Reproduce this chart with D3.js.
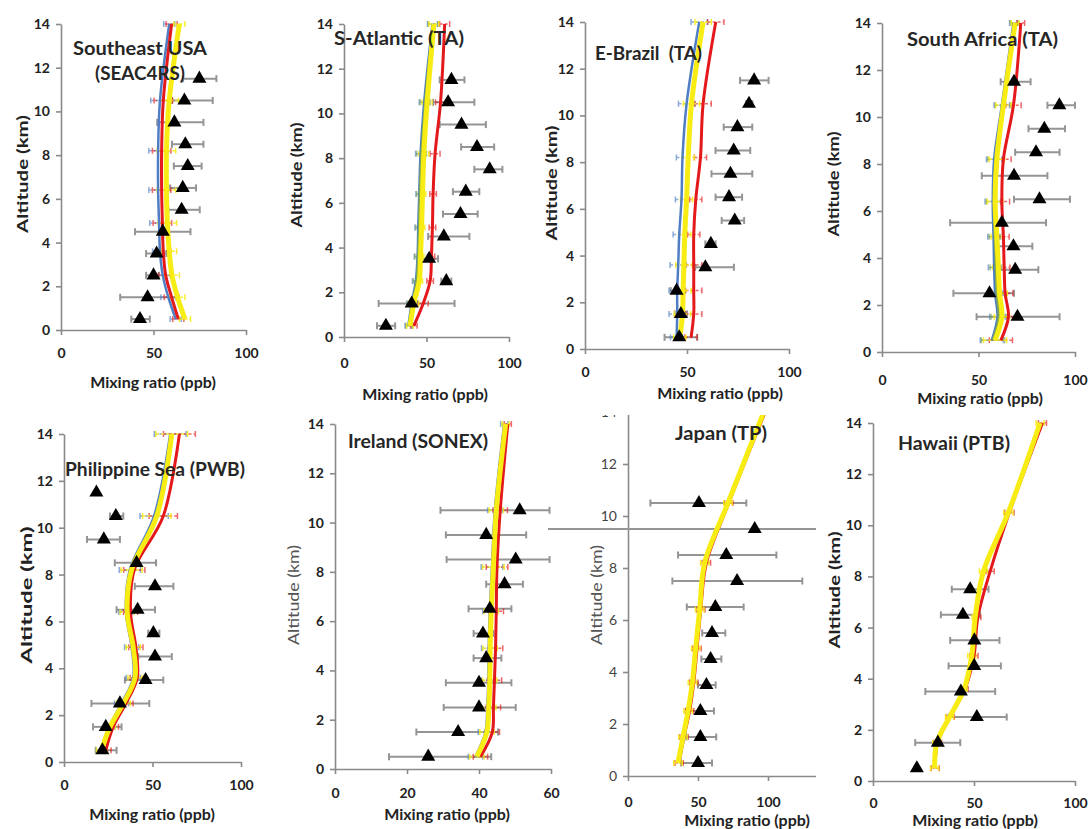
<!DOCTYPE html>
<html>
<head>
<meta charset="utf-8">
<script src="https://cdn.jsdelivr.net/npm/d3@7"></script>
<style>
  body { margin: 0; background: #fff; }
  svg { display: block; }
  text { font-family: Lato, "Noto Sans", sans-serif; }
</style>
</head>
<body>
<svg id="chart" width="1091" height="829"></svg>
<script>
// altitudes (km): observations are layer means, model at its own levels
var obsAlt = [0.5, 1.5, 2.5, 3.5, 4.5, 5.5, 6.5, 7.5, 8.5, 9.5, 10.5, 11.5];
var modelAlt = [0.5, 1.5, 2.5, 3.6, 4.9, 6.4, 8.2, 10.5, 14];

// Southeast USA (SEAC4RS)
var seusObs = [42.7, 46.8, 50, 51.7, 55, 65.2, 65.8, 68.5, 67.2, 61.3, 66.7, 74.8];
var seusLo  = [38, 32, 46, 46, 40, 58, 59, 61, 60, 52, 60, 66];
var seusHi  = [48, 63, 53, 57, 70, 75, 73, 76, 77, 77, 82, 84];
var seusBlue   = [62, 58, 55, 53.5, 53, 52.5, 52.5, 53.5, 58.5];
var seusYellow = [67, 63, 60, 58.5, 57.5, 57, 57, 58.5, 64];
var seusRed    = [63.4, 59.8, 56.6, 55.3, 54.8, 54.4, 54.4, 55.3, 59.8];
var seusErr    = [3, 4, 4, 4, 5, 5, 5, 5, 3];

// S-Atlantic (TA)
var satlObs = [25.4, 41, 62, 51.6, 60.5, 70.6, 73.8, 88.3, 80.6, 71.2, 63.1, 65.1];
var satlLo  = [20, 21, 59, 47, 51, 60, 66, 79, 71, 58, 54, 58];
var satlHi  = [31, 67, 65, 57, 76, 81, 82, 96, 91, 86, 79, 73];
var satlBlue   = [39, 41, 43.5, 44.6, 45, 45.6, 46.4, 48.6, 53.6];
var satlGreen  = [39.5, 41.5, 44, 45, 45.5, 46, 47, 49.2, 54];
var satlYellow = [40, 42.3, 45.6, 46.4, 47, 47.6, 48.4, 50.4, 54.5];
var satlRed    = [42.3, 48, 52.2, 53, 53.6, 54, 55.2, 58.5, 61];
var satlErr    = [2, 3, 2, 2, 2, 2, 3, 3, 3];

// E-Brazil (TA)
var ebraObs = [46.2, 47, 44.9, 59, 61.7, 73.4, 70.6, 71.3, 72.9, 74.7, 80.4, 82.9];
var ebraLo  = [39, 44, 42, 54, 59, 67, 64, 62, 64, 68, 79, 76];
var ebraHi  = [55, 50, 48, 73, 64, 78, 77, 82, 81, 82, 82, 90];
var ebraBlue   = [44.9, 45.2, 45.2, 45.7, 46.2, 47.3, 47.8, 49.8, 56];
var ebraYellow = [46.5, 47.8, 48.1, 48.5, 48.9, 49.8, 50.6, 52.2, 57.9];
var ebraRed    = [52, 53.3, 53.3, 53.3, 53.3, 54.3, 56.6, 57.9, 64.1];
var ebraErr    = [3, 4, 4, 4, 3, 3, 3, 4, 4];

// South Africa (TA)
var safrObs = [null, 70.2, 55.7, 69, 68.1, 62.1, 81.6, 68.4, 79.8, 84.1, 91.9, 68.4];
var safrLo  = [null, 49, 37, 60.3, 60.3, 35.3, 68.4, 51.7, 69, 75.9, 85.7, 61.5];
var safrHi  = [null, 92, 68.4, 81, 77.9, 85, 97.4, 85.7, 92, 94.8, 100, 77];
var safrBlue   = [56.9, 59.8, 58.6, 58.1, 57.8, 57.4, 58.1, 62.1, 68.1];
var safrGreen  = [57.5, 60.5, 59.5, 59, 58.5, 58, 58.8, 62.5, 68.5];
var safrYellow = [58.6, 62.1, 60.9, 60.3, 59.5, 58.6, 59.5, 62.9, 69];
var safrRed    = [61.6, 65.5, 63.8, 63.3, 62.9, 62.1, 62.9, 68.1, 71.9];
var safrErr    = [6, 4, 4, 3, 3, 4, 4, 4, 2];

// Philippine Sea (PWB)
var philObs = [21.7, 23.6, 31.6, 46.1, 51.4, 50.5, 41.6, 51.4, 41, 22.5, 29.3, 18.3];
var philLo  = [18, 16.4, 15.5, 34.4, 42, 47.6, 29.7, 40, 28.7, 13, 26, null];
var philHi  = [29.7, 32.5, 48.2, 56.1, 60.9, 53.9, 51.4, 61.8, 52, 31.6, 33.5, null];
var philBlue   = [20.8, 25.5, 32.5, 39.1, 38.2, 35, 37.2, 50.9, 60];
var philYellow = [21.2, 26, 33.5, 40.1, 39.1, 35.7, 38.2, 52.4, 60.9];
var philRed    = [23.6, 27.8, 35, 41.4, 40.6, 37.6, 39.7, 56.1, 65.2];
var philErr    = [3, 3, 4, 4, 4, 4, 6, 8, 9];

// Ireland (SONEX)
var irelObs = [25.9, 34.2, 40, 40, 42, 41.1, 43, 47.1, 50.2, 42, 51.3, null];
var irelLo  = [15, 22.6, 30.2, 30.8, 38.5, 38.5, 37.1, 42, 31, 30.8, 29.3, null];
var irelHi  = [43.4, 45.3, 50.2, 49, 46.2, 44, 49, 52.2, 59.6, 53.1, 59.6, null];
var irelBlue   = [39, 41.8, 42.3, 42.6, 42.7, 43, 43.6, 44.4, 47];
var irelYellow = [39.4, 42.2, 42.7, 43, 43.1, 43.4, 44, 44.8, 47.4];
var irelRed    = [40.4, 43.7, 44, 44.3, 44.6, 44.8, 45, 45.9, 48];
var irelErr    = [2, 2, 2, 2, 2, 2, 3, 2, 1];

// Japan (TP)
var japnObs = [50, 51.7, 51.7, 56, 59, 60, 62.4, 77.9, 70.2, 90.5, 50.7, null];
var japnLo  = [38, 41.7, 41.7, 50, 52.4, 53, 42, 31.7, 35.7, -60, 16, null];
var japnHi  = [60, 63, 61.4, 62.6, 66.7, 69.5, 82.6, 124.5, 106, 240, 84.5, null];
var japnYellow = [35.7, 39.3, 42.9, 46, 48.3, 51.2, 54.8, 71.4, 97];
var japnRed    = [36.5, 40, 44, 47, 49.3, 52, 56, 72, 98];
var japnErr    = [3, 3, 3, 3, 3, 3, 3, 3, 3];

// Hawaii (PTB)
var hawiObs = [21.7, 32.1, 51.4, 43.5, 50.1, 50.2, 44.5, 48.1, null, null, null, null];
var hawiLo  = [null, 20.9, 37.4, 25.9, 37.4, 38.2, 33.6, 39, null, null, null, null];
var hawiHi  = [null, 43.2, 66.2, 60.5, 63.3, 62.6, 53, 57.2, null, null, null, null];
var hawiYellow = [30.5, 31.6, 37.9, 45.1, 48.9, 50.6, 54.7, 67, 82.7];
var hawiRed    = [30.8, 32, 38.2, 45.6, 50, 51.9, 58, 67.5, 83.9];
var hawiErr    = [2, 2, 2, 1.5, 2, 1.5, 2, 2.3, 2];

var colors = { blue: "#4f7ec4", green: "#7fa653", yellow: "#f7ec13", red: "#e3191c" };
var widths = { blue: 2.5, green: 2.5, yellow: 5, red: 3 };

var panels = [
  { obs: seusObs, lo: seusLo, hi: seusHi, err: seusErr,
    models: { blue: seusBlue, yellow: seusYellow, red: seusRed },
    x0: 61, x1: 246, xMax: 100, xTicks: [0, 50, 100], y0: 330, y14: 24, tickY: 353,
    xLabel: [153, 381], yLabel: [21, 174, 118],
    titles: [[140, 47, "Southeast USA", 134], [140, 72, "(SEAC4RS)", 90]] },
  { obs: satlObs, lo: satlLo, hi: satlHi, err: satlErr,
    models: { blue: satlBlue, green: satlGreen, yellow: satlYellow, red: satlRed },
    x0: 344, x1: 509, xMax: 100, xTicks: [0, 50, 100], y0: 337, y14: 24, tickY: 363,
    xLabel: [425, 393], yLabel: [295, 175, 105],
    titles: [[399, 37, "S-Atlantic (TA)", 130]] },
  { obs: ebraObs, lo: ebraLo, hi: ebraHi, err: ebraErr,
    models: { blue: ebraBlue, yellow: ebraYellow, red: ebraRed },
    x0: 585, x1: 789, xMax: 100, xTicks: [0, 50, 100], y0: 349, y14: 22, tickY: 372,
    xLabel: [720, 392], yLabel: [550, 183, 115],
    titles: [[648.5, 52, "E-Brazil  (TA)", 107]] },
  { obs: safrObs, lo: safrLo, hi: safrHi, err: safrErr,
    models: { blue: safrBlue, green: safrGreen, yellow: safrYellow, red: safrRed },
    x0: 882, x1: 1075, xMax: 100, xTicks: [0, 50, 100], y0: 352, y14: 23, tickY: 380,
    xLabel: [980, 397], yLabel: [832, 184, 105],
    titles: [[982.5, 38, "South Africa (TA)", 151]] },
  { obs: philObs, lo: philLo, hi: philHi, err: philErr,
    models: { blue: philBlue, yellow: philYellow, red: philRed },
    x0: 64, x1: 241, xMax: 100, xTicks: [0, 50, 100], y0: 762, y14: 434, tickY: 785,
    xLabel: [152, 813], yLabel: [25, 595, 137],
    titles: [[155, 468, "Philippine Sea (PWB)", 180]] },
  { obs: irelObs, lo: irelLo, hi: irelHi, err: irelErr,
    models: { blue: irelBlue, yellow: irelYellow, red: irelRed },
    x0: 335, x1: 551, xMax: 60, xTicks: [0, 20, 40, 60], y0: 769, y14: 424, tickY: 793,
    xLabel: [447, 813], yLabel: [292, 595, 100], yLabelLight: true,
    titles: [[418, 440, "Ireland (SONEX)", 140]] },
  { obs: japnObs, lo: japnLo, hi: japnHi, err: japnErr,
    models: { yellow: japnYellow, red: japnRed },
    x0: 628, x1: 815.6, xMax: 134, xTicks: [0, 50, 100], y0: 776, y14: 412, tickY: 802,
    xLabel: [747, 819], yLabel: [595, 595, 100], yLabelLight: true, yTicksLight: true,
    clip: [548, 415, 268, 414],
    titles: [[721, 432, "Japan (TP)", 92]] },
  { obs: hawiObs, lo: hawiLo, hi: hawiHi, err: hawiErr,
    models: { yellow: hawiYellow, red: hawiRed },
    x0: 873, x1: 1075, xMax: 100, xTicks: [0, 50, 100], y0: 781, y14: 423, tickY: 803,
    xLabel: [975, 819], yLabel: [833, 590, 117],
    titles: [[954, 442, "Hawaii (PTB)", 112]] }
];

var svg = d3.select("#chart");
var defs = svg.append("defs");
var tri = d3.symbol().type(d3.symbolTriangle).size(85);

panels.forEach(function(p, i) {
  var x = d3.scaleLinear().domain([0, p.xMax]).range([p.x0, p.x1]);
  var y = d3.scaleLinear().domain([0, 14]).range([p.y0, p.y14]);

  var g = svg.append("g");
  var plot = g.append("g");
  if (p.clip) {
    defs.append("clipPath").attr("id", "clip" + i)
      .append("rect")
        .attr("x", p.clip[0]).attr("y", p.clip[1])
        .attr("width", p.clip[2]).attr("height", p.clip[3]);
    plot.attr("clip-path", "url(#clip" + i + ")");
  }

  // axes
  var xAxis = plot.append("g")
      .attr("transform", "translate(0," + p.y0 + ")")
      .call(d3.axisBottom(x).tickValues(p.xTicks).tickSize(5).tickSizeOuter(0));
  xAxis.selectAll("text")
      .attr("y", p.tickY - p.y0).attr("dy", "0.35em")
      .style("font-size", "14px").style("font-weight", "bold").style("fill", "#222");

  var yAxis = plot.append("g")
      .attr("transform", "translate(" + p.x0 + ",0)")
      .call(d3.axisLeft(y).tickValues(d3.range(0, 15, 2)).tickSize(5).tickPadding(6).tickSizeOuter(0));
  yAxis.selectAll("text")
      .style("font-size", "14px")
      .style("font-weight", p.yTicksLight ? "normal" : "bold")
      .style("fill", p.yTicksLight ? "#444" : "#222");

  plot.selectAll(".domain, .tick line").attr("stroke", "#8a8a8a").attr("stroke-width", 1.6);

  // observation error bars
  var obsPts = obsAlt.map(function(a, k) {
    return { alt: a, v: p.obs[k], lo: p.lo[k], hi: p.hi[k] };
  }).filter(function(d) { return d.v != null; });

  var eb = plot.append("g").attr("stroke", "#959595").attr("stroke-width", 2);
  obsPts.filter(function(d) { return d.lo != null; }).forEach(function(d) {
    var yy = y(d.alt);
    eb.append("line").attr("x1", x(d.lo)).attr("x2", x(d.hi)).attr("y1", yy).attr("y2", yy);
    eb.append("line").attr("x1", x(d.lo)).attr("x2", x(d.lo)).attr("y1", yy - 3.5).attr("y2", yy + 3.5);
    eb.append("line").attr("x1", x(d.hi)).attr("x2", x(d.hi)).attr("y1", yy - 3.5).attr("y2", yy + 3.5);
  });

  // model error bars
  var order = ["blue", "green", "red", "yellow"].filter(function(k) { return p.models[k]; });
  order.forEach(function(k) {
    var me = plot.append("g").attr("stroke", colors[k]).attr("stroke-width", 1.5)
        .attr("opacity", k == "yellow" ? 0.85 : 0.65);
    p.models[k].forEach(function(v, j) {
      var yy = y(modelAlt[j]), e = p.err[j];
      me.append("line").attr("x1", x(v - e)).attr("x2", x(v + e)).attr("y1", yy).attr("y2", yy)
        .attr("stroke-dasharray", "3,2");
      me.append("line").attr("x1", x(v - e)).attr("x2", x(v - e)).attr("y1", yy - 3).attr("y2", yy + 3);
      me.append("line").attr("x1", x(v + e)).attr("x2", x(v + e)).attr("y1", yy - 3).attr("y2", yy + 3);
    });
  });

  // model profiles (yellow drawn last, it sits over the red in the original)
  var line = d3.line()
      .x(function(d) { return x(d[1]); })
      .y(function(d) { return y(d[0]); })
      .curve(d3.curveCatmullRom);
  order.forEach(function(k) {
    plot.append("path")
      .datum(d3.zip(modelAlt, p.models[k]))
      .attr("fill", "none")
      .attr("stroke", colors[k])
      .attr("stroke-width", widths[k])
      .attr("stroke-linejoin", "round")
      .attr("d", line);
  });

  // observed means
  plot.selectAll(".obs")
    .data(obsPts)
    .enter().append("path")
      .attr("d", tri)
      .attr("fill", "#000")
      .attr("transform", function(d) { return "translate(" + x(d.v) + "," + y(d.alt) + ")"; });

  // labels
  g.append("text")
      .attr("x", p.xLabel[0]).attr("y", p.xLabel[1])
      .attr("text-anchor", "middle").attr("dominant-baseline", "central")
      .style("font-size", "16px").style("font-weight", "bold").style("fill", "#222")
      .text("Mixing ratio (ppb)");

  g.append("text")
      .attr("transform", "translate(" + p.yLabel[0] + "," + p.yLabel[1] + ") rotate(-90)")
      .attr("text-anchor", "middle").attr("dominant-baseline", "central")
      .attr("textLength", p.yLabel[2]).attr("lengthAdjust", "spacingAndGlyphs")
      .style("font-size", "16px")
      .style("font-weight", p.yLabelLight ? "normal" : "bold")
      .style("fill", p.yLabelLight ? "#555" : "#222")
      .text("Altitude (km)");

  p.titles.forEach(function(t) {
    g.append("text")
        .attr("x", t[0]).attr("y", t[1])
        .attr("text-anchor", "middle").attr("dominant-baseline", "central")
        .attr("textLength", t[3]).attr("lengthAdjust", "spacingAndGlyphs")
        .style("font-size", "19px").style("font-weight", "bold").style("fill", "#262626")
        .style("white-space", "pre")
        .text(t[2]);
  });
});
</script>
</body>
</html>
